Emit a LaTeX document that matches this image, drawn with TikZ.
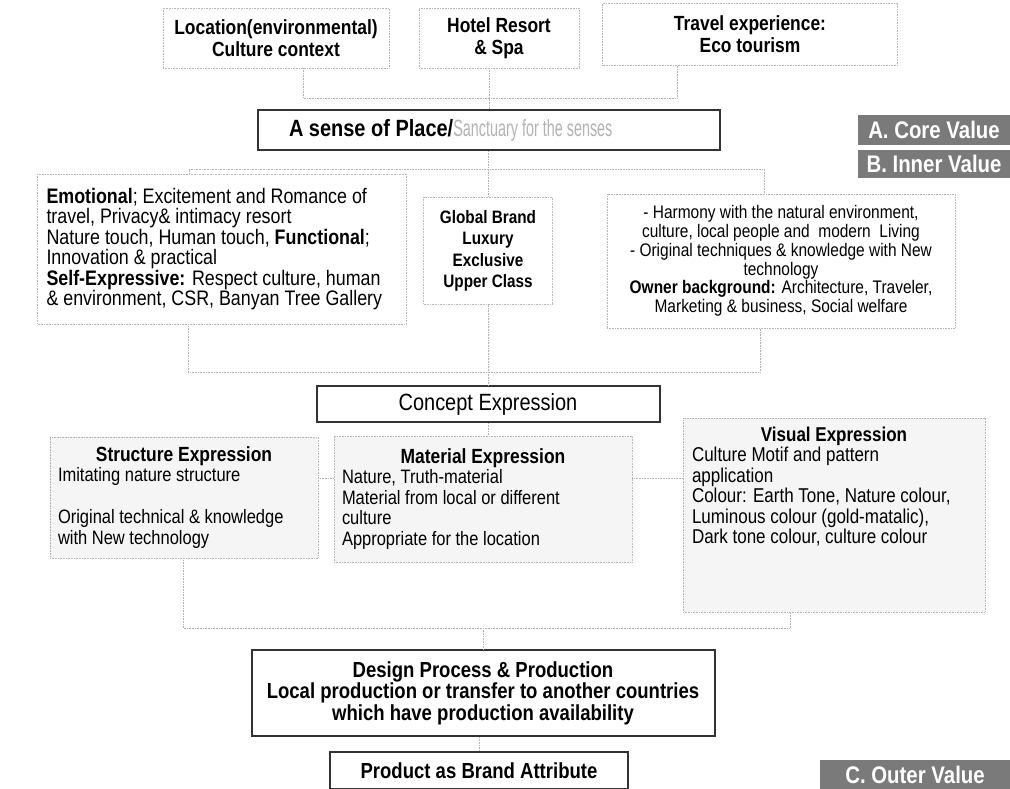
\documentclass[tikz,border=0pt]{standalone}
\usepackage{fontspec}
\setmainfont{Liberation Sans}[FakeStretch=0.85]
\usepackage{graphicx}
\begin{document}
\begin{tikzpicture}[x=1pt,y=-1pt,
  faint/.style={draw=black!28,line width=0.6pt,densely dotted,inner sep=0pt},
  heavy/.style={draw=black!80,line width=2pt,inner sep=0pt},
  tag/.style={fill=black!52,text=white,inner sep=0pt,minimum height=30,font=\fontsize{24}{26}\selectfont\bfseries},
  link/.style={draw=black!30,line width=0.6pt,densely dotted}]
\useasboundingbox (0,0) rectangle (1010,789);
% top row
\node[faint,minimum width=226,minimum height=60,align=center,font=\fontsize{20.5}{22}\selectfont\bfseries] (loc) at (276,38) {Location(environmental)\\Culture context};
\node[faint,minimum width=160,minimum height=60,align=center,font=\fontsize{20.5}{22}\selectfont\bfseries] (hotel) at (499,38) {Hotel Resort\\\& Spa};
\node[faint,minimum width=295,minimum height=62,align=center,font=\fontsize{20.5}{22}\selectfont\bfseries] (travel) at (750,34) {Travel experience:\\Eco tourism};
\node[heavy,minimum width=462,minimum height=40,text width=400,inner xsep=31,align=flush left,font=\fontsize{23.5}{26}\selectfont] (sense) at (489,130) {\textbf{A sense of Place/}\textcolor{black!30}{\scalebox{0.72}[1]{Sanctuary for the senses}}};
% value tags
\node[tag,minimum width=152] (core) at (934,130) {A. Core Value};
\node[tag,minimum width=152,minimum height=28] (inner) at (934,164) {B. Inner Value};
\node[tag,minimum width=190] (outer) at (915,774.5) {C. Outer Value};
% inner value
\node[faint,minimum width=369,minimum height=150,text width=351,inner xsep=9,align=flush left,font=\fontsize{21}{20.5}\selectfont] (emo) at (222,249) {\textbf{Emotional}; Excitement and Romance of\\travel, Privacy\& intimacy resort\\Nature touch, Human touch, \textbf{Functional};\\Innovation \& practical\\\textbf{Self-Expressive:} Respect culture, human\\\& environment, CSR, Banyan Tree Gallery};
\node[faint,minimum width=129,minimum height=107,align=center,font=\fontsize{18}{21.5}\selectfont\bfseries] (glob) at (488,251) {Global Brand\\Luxury\\Exclusive\\Upper Class};
\node[faint,minimum width=348,minimum height=134,align=center,font=\fontsize{18.2}{18.7}\selectfont] (harm) at (781,261) {- Harmony with the natural environment,\\culture, local people and \ modern \ Living\\- Original techniques \& knowledge with New\\technology\\\textbf{Owner background:} Architecture, Traveler,\\Marketing \& business, Social welfare};
% concept
\node[heavy,minimum width=343,minimum height=36,font=\fontsize{23.5}{24}\selectfont] (concept) at (488,404) {Concept Expression};
\node[faint,fill=black!4,minimum width=268,minimum height=121,text width=252,inner xsep=8,align=flush left,font=\fontsize{19.4}{20.5}\selectfont] (struct) at (184,497.5) {\hspace*{\fill}{\fontsize{20.5}{20.5}\selectfont\bfseries Structure Expression}\hspace*{\fill}\null\\Imitating nature structure\\[21.5pt]Original technical \& knowledge\\with New technology};
\node[faint,fill=black!4,minimum width=298,minimum height=126,text width=282,inner xsep=8,align=flush left,font=\fontsize{19.4}{20.5}\selectfont] (mat) at (483,499) {\hspace*{\fill}{\fontsize{20.5}{20.5}\selectfont\bfseries Material Expression}\hspace*{\fill}\null\\Nature, Truth-material\\Material from local or different\\culture\\Appropriate for the location};
\node[faint,fill=black!4,minimum width=302,minimum height=194] (vis) at (834,515) {};
\node[anchor=north,inner sep=0pt,text width=284,align=flush left,font=\fontsize{20}{20.5}\selectfont] (vistxt) at ([yshift=-9pt]vis.north) {\hspace*{\fill}{\bfseries Visual Expression}\hspace*{\fill}\null\\Culture Motif and pattern\\application\\Colour: Earth Tone, Nature colour,\\Luminous colour (gold-matalic),\\Dark tone colour, culture colour};
% outer value
\node[heavy,minimum width=463,minimum height=86,align=center,font=\fontsize{21.8}{21.5}\selectfont\bfseries] (design) at (483,693) {Design Process \& Production\\Local production or transfer to another countries\\which have production availability};
\node[heavy,minimum width=298,minimum height=37,font=\fontsize{21.8}{22}\selectfont\bfseries] (prod) at (479,770.5) {Product as Brand Attribute};
% connectors
\coordinate (tl) at (303,98);
\coordinate (tr) at (677,98);
\draw[link] (loc.south -| tl) -- (tl) -- (tr) -- (travel.south -| tr);
\draw[link] (sense.north |- hotel.south) -- (sense.north);
\coordinate (il) at (189,169);
\coordinate (ir) at (764,169);
\draw[link] (emo.north -| il) -- (il) -- (ir) -- (harm.north -| ir);
\draw[link] (glob.north |- sense.south) -- (glob.north);
\coordinate (bl) at (188,372);
\coordinate (br) at (760,372);
\draw[link] (emo.south -| bl) -- (bl) -- (br) -- (harm.south -| br);
\draw[link] (glob.south) -- (glob.south |- concept.north);
\draw[link] (concept.south) -- (concept.south |- mat.north);
\coordinate (sm) at (0,478);
\draw[link] (struct.east |- sm) -- (mat.west |- sm);
\draw[link] (mat.east |- sm) -- (vis.west |- sm);
\coordinate (obl) at (183,628);
\coordinate (obr) at (790,628);
\draw[link] (struct.south -| obl) -- (obl) -- (obr) -- (vis.south -| obr);
\draw[link] (design.north |- obl) -- (design.north);
\draw[link] (prod.north |- design.south) -- (prod.north);
\end{tikzpicture}
\end{document}
